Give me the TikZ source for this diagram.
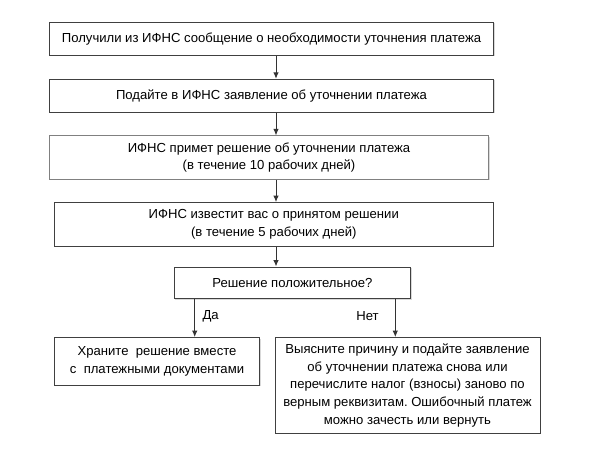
\documentclass[tikz,border=0pt]{standalone}
\usepackage{fontspec}
\setmainfont{Liberation Sans}
\usetikzlibrary{positioning, arrows.meta, shadows}
\frenchspacing
\tikzstyle{process} = [rectangle, minimum width=444pt, 
minimum height=33pt, text centered, draw=black!75, line width=1pt, 
fill=white, drop shadow={shadow xshift=1pt, shadow yshift=-1pt, 
fill=black!25, opacity=0.6}]
\tikzstyle{arrow} = [draw=black!80, line width=1pt, 
-{Latex[length=6.5pt, width=5.5pt]}]

\begin{document}
\begin{tikzpicture}[x=1pt, y=1pt, node distance=57pt,
    every node/.style={font=\fontsize{13.1}{17.7}\selectfont}, 
    align=center]
\useasboundingbox (0,0) rectangle (600,-455);

\node (get) [process] at (271.5,-38.8)
{Получили из ИФНС сообщение о необходимости уточнения платежа};

\node (apply) [process, below of=get] 
{Подайте в ИФНС заявление об уточнении платежа};

\node (decide) [process, below of=apply, minimum width=439.4pt, 
minimum height=43.3pt, xshift=-2.5pt, yshift=-4.8pt, draw=black!50] 
{ИФНС примет решение об уточнении платежа \\ (в течение 10 рабочих дней)};

\node (notify) [process, below of=decide, minimum width=439pt, 
minimum height=43.4pt, xshift=4.8pt, yshift=-9.7pt] 
{ИФНС известит вас о принятом решении \\ (в течение 5 рабочих дней)};

\node (check) [process, below of=notify, minimum width=236.4pt, 
minimum height=31.6pt, xshift=18.7pt, yshift=-1.5pt] 
{Решение положительное?};

%-------branches-------------------
\node (keep) [process, below of=check, minimum width=205.4pt, 
minimum height=47.4pt, xshift=-135.5pt, yshift=-21.5pt] 
{Храните\ \ решение вместе \\ с\ \ платежными документами};

\node (redo) [process, below of=check, minimum width=265pt, 
minimum height=95.4pt, xshift=115pt, yshift=-45.5pt] 
{Выясните причину и подайте заявление \\ об уточнении платежа снова или \\ 
перечислите налог (взносы) заново по \\ верным реквизитам. Ошибочный платеж \\ 
можно зачесть или вернуть};

\coordinate (spine) at (276,0);
\coordinate (yes) at (194.7,0);
\coordinate (no) at (395.3,0);

\draw [arrow] (get.south -| spine) -- (apply.north -| spine);
\draw [arrow] (apply.south -| spine) -- (decide.north -| spine);
\draw [arrow] (decide.south -| spine) -- (notify.north -| spine);
\draw [arrow] (notify.south -| spine) -- (check.north -| spine);

%----------arrows for check----------------
\draw [arrow] (check.south -| yes) -- node[right, xshift=4pt, 
yshift=2pt] {Да} (keep.north -| yes);
\draw [arrow] (check.south -| no) -- node[left, xshift=-12.8pt, 
yshift=2pt] {Нет} (redo.north -| no);

\end{tikzpicture}
\end{document}
